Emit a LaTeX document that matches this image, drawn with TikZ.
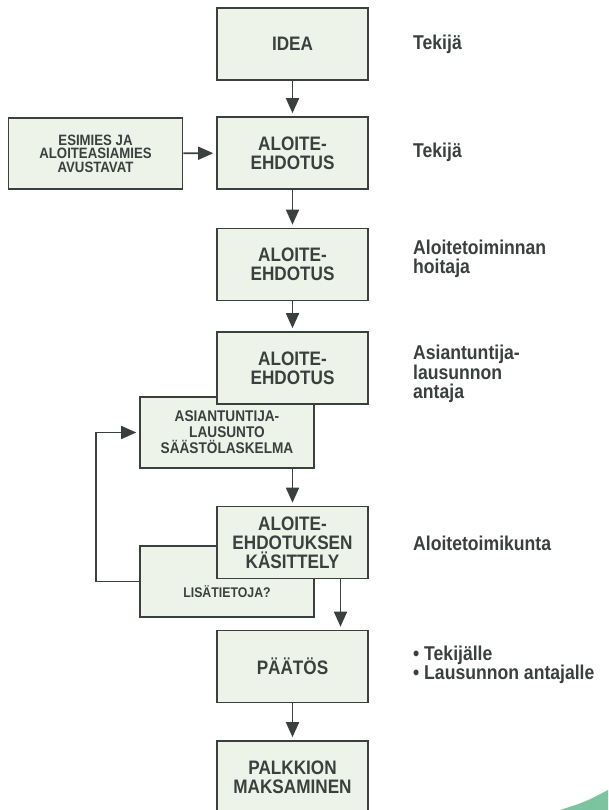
\documentclass[tikz,border=0pt]{standalone}
\usepackage{fontspec}
\setmainfont[FakeStretch=0.88]{Liberation Sans}
\usetikzlibrary{arrows.meta}
\definecolor{boxfill}{HTML}{EEF3EA}
\definecolor{ink}{HTML}{3A403D}
\definecolor{kulma}{HTML}{7CC4A0}
\newcommand{\isot}{\fontsize{19.5}{19}\selectfont\bfseries}
\newcommand{\pienet}{\fontsize{15}{13.5}\selectfont\bfseries}
\newcommand{\roolit}{\fontsize{20}{19.5}\selectfont\bfseries}

\begin{document}
\begin{tikzpicture}[x=1pt,y=-1pt]
                        \tikzstyle{laatikko}=[draw=ink,fill=boxfill,line width=1.6pt,minimum width=151pt,minimum height=72pt,align=center,text=ink,font=\isot,inner sep=0pt]
                        \tikzstyle{sivu}=[laatikko,minimum width=174pt,minimum height=71pt,font=\pienet]
                        \tikzstyle{nuoli}=[draw=ink,line width=1.6pt,-{Triangle[length=15pt,width=13pt]},shorten >=3pt]
                        \tikzstyle{rooli}=[anchor=west,align=left,text=ink,font=\roolit,inner sep=0pt]
                        \useasboundingbox (0,0) rectangle (608,810);
                        \node[laatikko] (idea) at (292.5,44) {IDEA};
                        \node[sivu] (esimies) at (95.5,153.5) {ESIMIES JA\\ALOITEASIAMIES\\AVUSTAVAT};
                        \node[laatikko] (ehdotus) at (292.5,153) {ALOITE-\\EHDOTUS};
                        \node[laatikko] (hoito) at (292.5,264.5) {ALOITE-\\EHDOTUS};
                        \node[sivu,font=\fontsize{15.5}{16}\selectfont\bfseries] (lausunto) at (227,432.5) {ASIANTUNTIJA-\\LAUSUNTO\\SÄÄSTÖLASKELMA};
                        \node[laatikko] (asiantuntija) at (292.5,368) {ALOITE-\\EHDOTUS};
                        \node[sivu,font=\fontsize{14}{14}\selectfont\bfseries,text height=32pt,text depth=0pt] (lisatietoja) at (227,581.5) {LISÄTIETOJA?};
                        \node[laatikko] (kasittely) at (292.5,542.5) {ALOITE-\\EHDOTUKSEN\\KÄSITTELY};
                        \node[laatikko] (paatos) at (292.5,666.5) {PÄÄTÖS};
                        \node[laatikko] (palkkio) at (292.5,777) {PALKKION\\MAKSAMINEN};
                        \node[rooli] (r1) at (413,44) {Tekijä};
                        \node[rooli] (r2) at (413,152) {Tekijä};
                        \node[rooli] (r3) at (413,259) {Aloitetoiminnan\\hoitaja};
                        \node[rooli] (r4) at (413,374) {Asiantuntija-\\lausunnon\\antaja};
                        \node[rooli] (r5) at (413,543) {Aloitetoimikunta};
                        \node[rooli] (r6) at (413,665) {• Tekijälle\\• Lausunnon antajalle};
                        \draw[nuoli] (idea) -- (ehdotus);
                        \draw[nuoli] (esimies) -- (ehdotus);
                        \draw[nuoli] (ehdotus) -- (hoito);
                        \draw[nuoli] (hoito) -- (asiantuntija);
                        \draw[nuoli] (kasittely.north |- lausunto.south) -- (kasittely.north);
                        \draw[nuoli] (lisatietoja.west) -- ++(-43,0) |- (lausunto.west);
                        \draw[nuoli] ([xshift=48pt]kasittely.south) -- ([xshift=48pt]paatos.north);
                        \draw[nuoli] (paatos) -- (palkkio);
                        \fill[kulma] (560,810) .. controls (585,802) .. (608,790) -- (608,810) -- cycle;
                    \end{tikzpicture}
\end{document}
